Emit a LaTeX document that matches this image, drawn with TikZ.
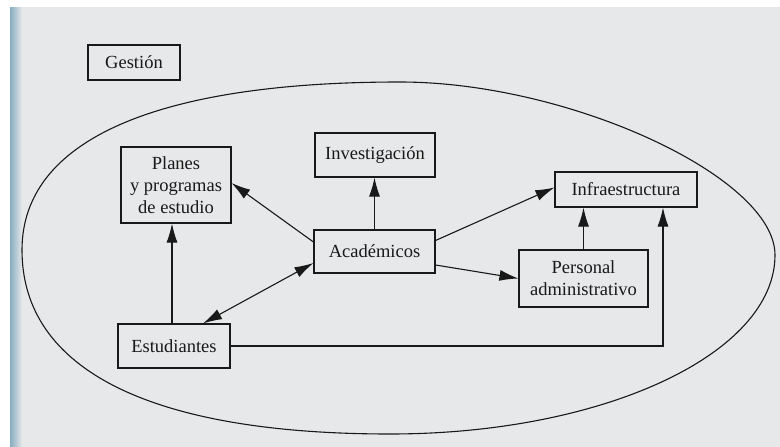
\documentclass[tikz,border=0pt]{standalone}
\usepackage{fontspec}
\setmainfont{Liberation Serif}
\usepackage{tikz}
\usetikzlibrary{arrows.meta}
\definecolor{paper}{RGB}{230,232,233}
\definecolor{ink}{RGB}{25,25,25}
\definecolor{spine}{RGB}{135,172,192}
\tikzset{basic/.style={draw=ink,fill=none,line width=1.1pt,
                       text=ink,align=center,inner sep=0pt}}

\begin{document}
\begin{tikzpicture}[x=1pt,y=-1pt,>={Latex[length=19pt,width=11pt]},
    % styles for clarity
    box/.style  ={basic, rectangle},
    link/.style ={draw=ink, line width=1.1pt},
    font=\fontsize{18.5}{22}\selectfont
  ]
    \useasboundingbox (0,0) rectangle (780,447);
    \fill[paper] (10,7) rectangle (780,447);
    \shade[left color=spine, right color=paper] (10,7) rectangle (22,447);

    % the institution
    \draw[link] (22,250) .. controls (22,141) and (154,82) .. (400,82)
      .. controls (569,82) and (775,177) .. (775,255)
      .. controls (775,354) and (603,434) .. (390,434)
      .. controls (151,434) and (22,370) .. cycle;

    \node[box, minimum width=92pt, minimum height=35pt](gestion) at (134,62.5){Gestión};
    \node[box, minimum width=110pt, minimum height=76pt](planes) at (176,185)
      {Planes\\y programas\\de estudio};
    \node[box, minimum width=120pt, minimum height=44pt](invest) at (375,155){Investigación};
    \node[box, minimum width=142pt, minimum height=35pt](infra) at (626,189.5){Infraestructura};
    \node[box, minimum width=121pt, minimum height=43pt](acad) at (374.5,251.5){Académicos};
    \node[box, minimum width=129pt, minimum height=57pt](personal) at (583.5,278.5)
      {Personal\\administrativo};
    \node[box, minimum width=112pt, minimum height=44pt](estud) at (174,346){Estudiantes};

    \draw[link,->] ([yshift=9.5pt]acad.west) -- ([yshift=2pt]planes.east);
    \draw[link,->] (acad.north) -- (acad.north |- invest.south);
    \draw[link,->] ([yshift=11pt]acad.east) -- ([yshift=2pt]infra.west);
    \draw[link,->] ([yshift=-13.5pt]acad.east) -- (personal.west);
    \draw[link,<->] ([xshift=29pt]estud.north) -- ([yshift=-11.5pt]acad.west);
    \draw[link,->] ([xshift=-2pt]estud.north) -- ([xshift=-4pt]planes.south);
    \draw[link,->] (personal.north) -- (personal.north |- infra.south);
    \draw[link,->] (estud.east) -| ([xshift=37pt]infra.south);
  \end{tikzpicture}
\end{document}
